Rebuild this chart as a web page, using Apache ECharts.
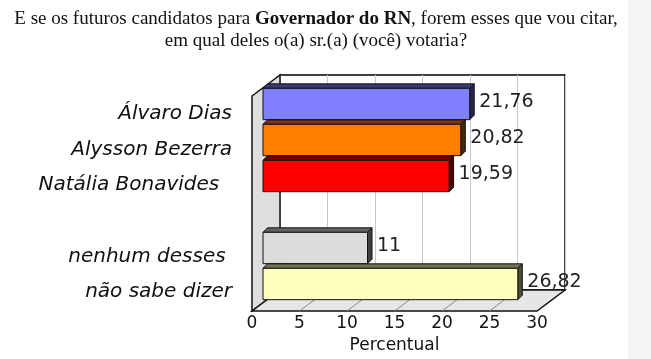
<!DOCTYPE html>
<html>
<head>
<meta charset="utf-8">
<script src="https://cdn.jsdelivr.net/npm/echarts@6/dist/echarts.min.js"></script>
<style>
html,body{margin:0;padding:0;background:#fff;}
#c{width:651px;height:359px;}
</style>
</head>
<body>
<div id="c"></div>
<script>
// ---- data ----
const categories = ['Álvaro Dias', 'Alysson Bezerra', 'Natália Bonavides  ', '', 'nenhum desses ', 'não sabe dizer'];
const values = [21.76, 20.82, 19.59, null, 11, 26.82];
const valueLabels = ['21,76', '20,82', '19,59', '', '11', '26,82'];
const barColors = ['#8080ff', '#ff8000', '#ff0000', '#ffffff', '#dcdcdc', '#ffffc0'];
const xTicks = [0, 5, 10, 15, 20, 25, 30];
const axisName = 'Percentual';
const titleLine1a = 'E se os futuros candidatos para ';
const titleBold = 'Governador do RN';
const titleLine1b = ', forem esses que vou citar,';
const titleLine2 = 'em qual deles o(a) sr.(a) (você) votaria?';

// ---- style/layout ----
const DEPTH = [28, -21];
const BAR_D = 4.5;
const sans = '"DejaVu Sans", sans-serif';
const serif = '"Liberation Serif", serif';

function shade(hex, f) {
  const n = parseInt(hex.slice(1), 16);
  const r = Math.round(((n >> 16) & 255) * f), g = Math.round(((n >> 8) & 255) * f), b = Math.round((n & 255) * f);
  return 'rgb(' + r + ',' + g + ',' + b + ')';
}

const chart = echarts.init(document.getElementById('c'), null, {renderer: 'canvas'});
const xMin = xTicks[0], xMax = xTicks[xTicks.length - 1], xInt = xTicks[1] - xTicks[0];

const option = {
  animation: false,
  backgroundColor: '#ffffff',
  title: {
    left: 311,
    top: 3,
    textAlign: 'center',
    text: titleLine1a + '{b|' + titleBold + '}' + titleLine1b + '\n' + titleLine2,
    textStyle: {
      fontFamily: serif,
      fontSize: 19,
      fontWeight: 'normal',
      color: '#111',
      lineHeight: 22,
      align: 'center',
      rich: {
        b: {fontFamily: serif, fontSize: 19, fontWeight: 'bold', color: '#111', lineHeight: 22}
      }
    }
  },
  grid: [
    {left: 252, width: 285, top: 96, height: 216},   // front plane (labels)
    {left: 280, width: 285, top: 75, height: 215, show: true, borderColor: '#000', borderWidth: 1.5, backgroundColor: 'transparent'}, // back wall
    {left: 263, width: 285, top: 86, height: 216}    // bars
  ],
  xAxis: [
    {gridIndex: 0, type: 'value', min: xMin, max: xMax, interval: xInt,
      axisLine: {show: false}, axisTick: {show: false}, splitLine: {show: false},
      axisLabel: {margin: 5, fontFamily: sans, fontSize: 17, color: '#111'},
      name: axisName, nameLocation: 'middle', nameGap: 27,
      nameTextStyle: {fontFamily: sans, fontSize: 17, color: '#111'}},
    {gridIndex: 1, type: 'value', min: xMin, max: xMax, interval: xInt,
      axisLine: {show: false}, axisTick: {show: false}, axisLabel: {show: false},
      splitLine: {show: true, lineStyle: {color: '#c8c8c8', width: 1}}},
    {gridIndex: 2, type: 'value', min: xMin, max: xMax, interval: xInt, show: false}
  ],
  yAxis: [
    {gridIndex: 0, type: 'category', data: categories, inverse: true,
      axisLine: {show: false}, axisTick: {show: false}, splitLine: {show: false},
      axisLabel: {margin: 20, fontFamily: sans, fontStyle: 'italic', fontSize: 20, color: '#111'}},
    {gridIndex: 1, type: 'value', min: 0, max: 1, show: false, splitLine: {show: false}},
    {gridIndex: 2, type: 'category', data: categories, inverse: true, show: false}
  ],
  series: [{
    type: 'custom',
    xAxisIndex: 2,
    yAxisIndex: 2,
    z: 10,
    encode: {x: 1, y: 0},
    data: values.map((v, i) => [i, v]),
    renderItem: function (params, api) {
      const i = params.dataIndex;
      const v = values[i];
      if (v == null) return null;
      const p0 = api.coord([0, i]);
      const p1 = api.coord([v, i]);
      const band = api.size([0, 1])[1];
      const h = band * 0.87;
      const yt = p0[1] - h / 2, yb = p0[1] + h / 2;
      const x0 = p0[0], x1 = p1[0], d = BAR_D;
      const col = barColors[i];
      const stroke = {stroke: '#111', lineWidth: 1};
      return {
        type: 'group',
        children: [
          {type: 'polygon', shape: {points: [[x0, yt], [x1, yt], [x1 + d, yt - d], [x0 + d, yt - d]]},
            style: Object.assign({fill: shade(col, 0.45)}, stroke)},
          {type: 'polygon', shape: {points: [[x1, yt], [x1 + d, yt - d], [x1 + d, yb - d], [x1, yb]]},
            style: Object.assign({fill: shade(col, 0.3)}, stroke)},
          {type: 'rect', shape: {x: x0, y: yt, width: x1 - x0, height: yb - yt},
            style: Object.assign({fill: col}, stroke)},
          {type: 'text', x: x1 + d + 5, y: (yt + yb) / 2 - 2,
            style: {text: valueLabels[i], fill: '#222', font: '19px ' + sans, verticalAlign: 'middle', align: 'left'}}
        ]
      };
    }
  }]
};
chart.setOption(option);

// ---- 3D walls computed from the back-wall axes ----
const bl = chart.convertToPixel({xAxisIndex: 1, yAxisIndex: 1}, [xMin, 0]);
const tl = chart.convertToPixel({xAxisIndex: 1, yAxisIndex: 1}, [xMin, 1]);
const br = chart.convertToPixel({xAxisIndex: 1, yAxisIndex: 1}, [xMax, 0]);
const f = p => [p[0] - DEPTH[0], p[1] - DEPTH[1]];
const graphics = [
  {type: 'rect', shape: {x: 628, y: 0, width: 23, height: 359}, style: {fill: '#f5f5f5'}, z: 0, silent: true},
  {type: 'polygon', shape: {points: [tl, bl, f(bl), f(tl)]}, style: {fill: '#dedede', stroke: '#111', lineWidth: 1.5}, z: 1},
  {type: 'polygon', shape: {points: [bl, br, f(br), f(bl)]}, style: {fill: '#e6e6e6', stroke: '#111', lineWidth: 1.5}, z: 1}
];
xTicks.slice(1, -1).forEach(t => {
  const b = chart.convertToPixel({xAxisIndex: 1, yAxisIndex: 1}, [t, 0]);
  graphics.push({type: 'line', shape: {x1: b[0], y1: b[1], x2: f(b)[0], y2: f(b)[1]}, style: {stroke: '#888', lineWidth: 1}, z: 1});
});
chart.setOption({graphic: graphics});
</script>
</body>
</html>
